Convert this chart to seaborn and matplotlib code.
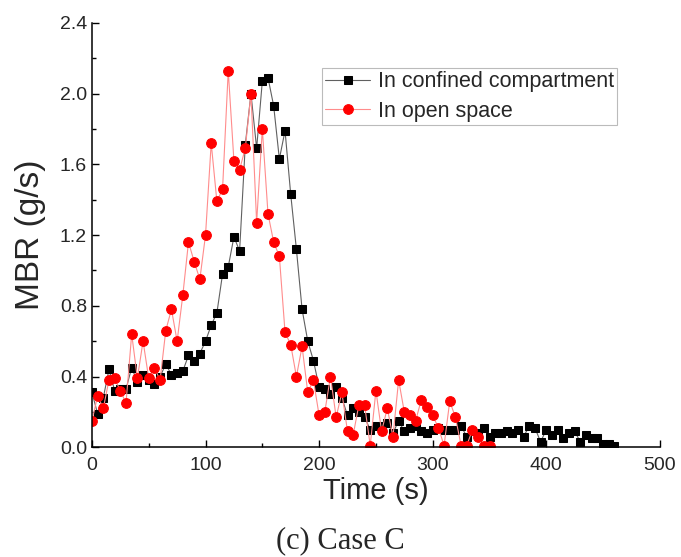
import numpy as np
import pandas as pd
import seaborn as sns
import matplotlib.pyplot as plt
from matplotlib.ticker import MultipleLocator

# time (s) and mass burning rate (g/s)
time_confined = [0, 5, 10, 15, 20, 25, 30, 35, 40, 45, 50, 55, 60, 65, 70, 75, 80, 85, 90, 95,
                 100, 105, 110, 115, 120, 125, 130, 135, 140, 145, 150, 155, 160, 165, 170, 175,
                 180, 185, 190, 195, 200, 205, 210, 215, 220, 225, 230, 235, 240, 245, 250, 255,
                 260, 265, 270, 275, 280, 285, 290, 295, 300, 305, 310, 315, 320, 325, 330, 335,
                 340, 345, 350, 355, 360, 365, 370, 375, 380, 385, 390, 395, 400, 405, 410, 415,
                 420, 425, 430, 435, 440, 445, 450, 455, 460]
mbr_confined = [0.31, 0.19, 0.28, 0.44, 0.32, 0.33, 0.33, 0.45, 0.37, 0.41,
                0.38, 0.36, 0.40, 0.47, 0.41, 0.42, 0.43, 0.52, 0.49, 0.53,
                0.60, 0.69, 0.76, 0.98, 1.02, 1.19, 1.11, 1.71, 2.00, 1.69,
                2.07, 2.09, 1.93, 1.63, 1.79, 1.43, 1.12, 0.78, 0.60, 0.49,
                0.34, 0.33, 0.30, 0.34, 0.28, 0.18, 0.22, 0.20, 0.17, 0.10,
                0.12, 0.12, 0.14, 0.08, 0.15, 0.09, 0.11, 0.12, 0.09, 0.08,
                0.10, 0.11, 0.10, 0.10, 0.10, 0.12, 0.06, 0.09, 0.08, 0.11,
                0.06, 0.08, 0.08, 0.09, 0.08, 0.10, 0.06, 0.12, 0.11, 0.03,
                0.10, 0.07, 0.10, 0.05, 0.08, 0.09, 0.03, 0.07, 0.05, 0.05,
                0.02, 0.02, 0.01]

time_open = [0, 5, 10, 15, 20, 25, 30, 35, 40, 45, 50, 55, 60, 65, 70, 75, 80, 85, 90, 95,
             100, 105, 110, 115, 120, 125, 130, 135, 140, 145, 150, 155, 160, 165, 170, 175,
             180, 185, 190, 195, 200, 205, 210, 215, 220, 225, 230, 235, 240, 245, 250, 255,
             260, 265, 270, 275, 280, 285, 290, 295, 300, 305, 310, 315, 320, 325, 330, 335,
             340, 345, 350]
mbr_open = [0.15, 0.29, 0.22, 0.38, 0.39, 0.32, 0.25, 0.64, 0.39, 0.60,
            0.39, 0.45, 0.38, 0.66, 0.78, 0.60, 0.86, 1.16, 1.05, 0.95,
            1.20, 1.72, 1.39, 1.46, 2.13, 1.62, 1.57, 1.69, 2.00, 1.27,
            1.80, 1.32, 1.16, 1.08, 0.65, 0.58, 0.40, 0.57, 0.31, 0.38,
            0.18, 0.20, 0.40, 0.17, 0.31, 0.09, 0.07, 0.24, 0.24, 0.01,
            0.32, 0.09, 0.22, 0.06, 0.38, 0.20, 0.18, 0.15, 0.27, 0.23,
            0.18, 0.11, 0.01, 0.26, 0.17, 0.01, 0.01, 0.10, 0.06, 0.01,
            0.01]

df_confined = pd.DataFrame({'time': time_confined, 'mbr': mbr_confined})
df_open = pd.DataFrame({'time': time_open, 'mbr': mbr_open})

sns.set_style('ticks')
plt.rcParams['font.family'] = ['Liberation Sans', 'DejaVu Sans']

fig, ax = plt.subplots(figsize=(6.81, 5.57), dpi=100)
fig.subplots_adjust(left=0.135, right=0.969, bottom=0.197, top=0.959)

sns.lineplot(data=df_confined, x='time', y='mbr', ax=ax, estimator=None, sort=False,
             color='#606060', lw=0.8, marker='s', markersize=6.2,
             markerfacecolor='black', markeredgecolor='black',
             label='In confined compartment')
sns.lineplot(data=df_open, x='time', y='mbr', ax=ax, estimator=None, sort=False,
             color='#ff8c8c', lw=0.8, marker='o', markersize=7,
             markerfacecolor='red', markeredgecolor='red',
             label='In open space')

ax.set_xlim(0, 500)
ax.set_ylim(0, 2.4)
ax.xaxis.set_major_locator(MultipleLocator(100))
ax.xaxis.set_minor_locator(MultipleLocator(50))
ax.yaxis.set_major_locator(MultipleLocator(0.4))
ax.yaxis.set_minor_locator(MultipleLocator(0.2))
ax.yaxis.set_major_formatter(plt.FormatStrFormatter('%.1f'))
ax.tick_params(which='both', direction='in', labelsize=14, color='black', width=1)
ax.tick_params(which='major', length=5)
ax.tick_params(which='minor', length=3)
ax.tick_params(axis='x', pad=7)
sns.despine(ax=ax)
for s in ['left', 'bottom']:
    ax.spines[s].set_linewidth(1.1)
    ax.spines[s].set_color('black')

ax.set_xlabel('Time (s)', fontsize=21, labelpad=2)
ax.set_ylabel('MBR (g/s)', fontsize=24, labelpad=10)

leg = ax.legend(loc='upper left', bbox_to_anchor=(0.405, 0.894), borderaxespad=0,
                fontsize=15.5, frameon=True, fancybox=False, edgecolor='#aaaaaa',
                handlelength=2.1, handletextpad=0.35, labelspacing=0.4,
                borderpad=0.15)
leg.get_frame().set_linewidth(0.8)

fig.text(0.5, 0.029, '(c) Case C', ha='center', va='center', fontsize=22,
         family=['Liberation Serif', 'DejaVu Serif'])

fig.savefig('out.png', dpi=100)
